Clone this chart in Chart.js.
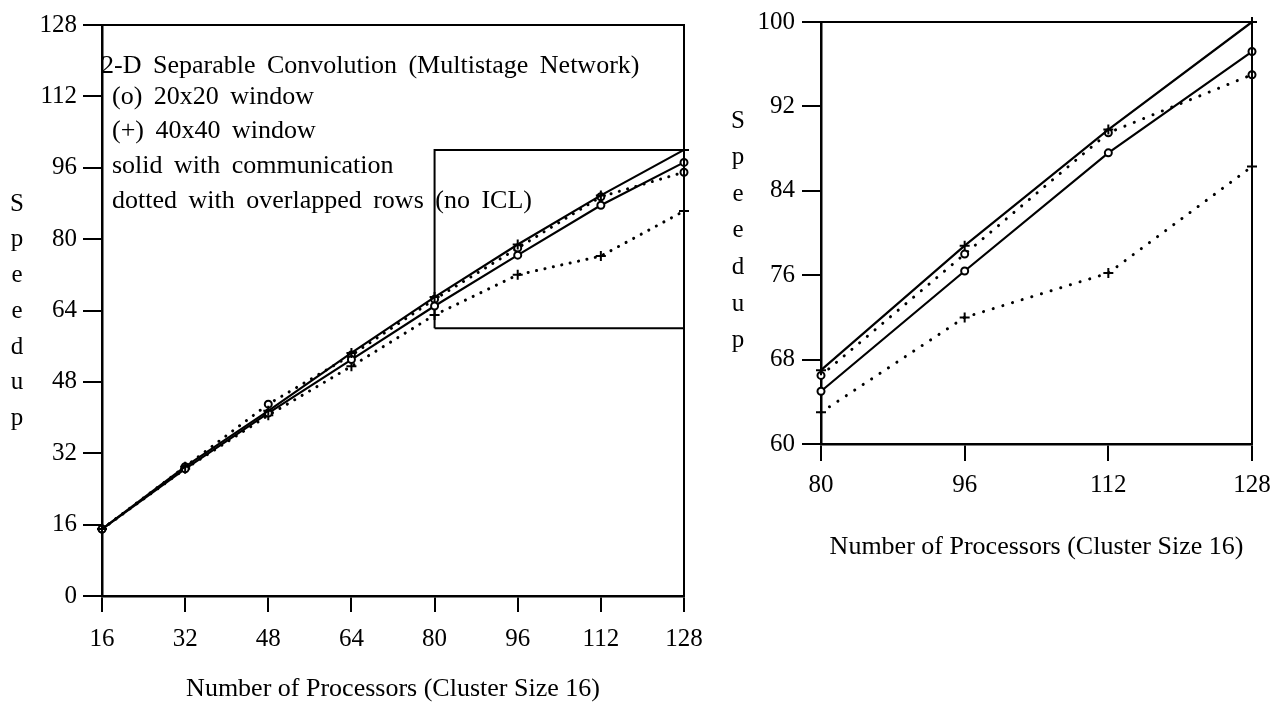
<!DOCTYPE html>
<html><head><meta charset="utf-8">
<script src="https://cdn.jsdelivr.net/npm/chart.js@4.4.0/dist/chart.umd.min.js"></script>
<style>
html,body{margin:0;padding:0;background:#fff;width:1287px;height:707px;overflow:hidden}
#c1{position:absolute;left:0;top:0}
#c2{position:absolute;left:720px;top:0}
</style></head><body>
<canvas id="c1" width="720" height="707"></canvas>
<canvas id="c2" width="567" height="565"></canvas>
<script>
// ---- data ----
const processors = [16, 32, 48, 64, 80, 96, 112, 128];
const solid40 = [15, 29, 41.5, 54.5, 67, 78.8, 89.8, 100];    // (+) solid, with communication
const solid20 = [15, 28.5, 41, 53, 65, 76.4, 87.6, 97.2];     // (o) solid, with communication
const dotted20 = [15, 29, 43, 54, 66.5, 78, 89.5, 95];        // (o) dotted, overlapped rows
const dotted40 = [15, 28.5, 40.5, 51.5, 63, 72, 76.2, 86.3];  // (+) dotted, overlapped rows
const zoomX = [80, 128];
const zoomY = [60, 100];
const annotationLines = [
  '2-D Separable Convolution (Multistage Network)',
  '(o) 20x20 window',
  '(+) 40x40 window',
  'solid with communication',
  'dotted with overlapped rows (no ICL)'
];
const xTitle = 'Number of Processors (Cluster Size 16)';
const yTitle = 'Speedup';

const FONT = "'Liberation Serif', 'Times New Roman', serif";

function pts(xs, ys, minX) {
  const out = [];
  xs.forEach((x, i) => { if (x >= minX) out.push({x: x, y: ys[i]}); });
  return out;
}

function seriesSets(minX, dash) {
  const base = {borderColor: '#000', pointBorderColor: '#000', clip: 12, tension: 0};
  return [
    Object.assign({}, base, {label: 'solid 40x40', data: pts(processors, solid40, minX), borderWidth: 2.2,
      pointStyle: 'cross', pointRadius: 5, pointBorderWidth: 2}),
    Object.assign({}, base, {label: 'solid 20x20', data: pts(processors, solid20, minX), borderWidth: 2.2,
      pointStyle: 'circle', pointRadius: 3.5, pointBorderWidth: 2, pointBackgroundColor: '#fff'}),
    Object.assign({}, base, {label: 'dotted 20x20', data: pts(processors, dotted20, minX), borderWidth: 3,
      borderDash: dash, borderCapStyle: 'round',
      pointStyle: 'circle', pointRadius: 3.5, pointBorderWidth: 2, pointBackgroundColor: '#fff'}),
    Object.assign({}, base, {label: 'dotted 40x40', data: pts(processors, dotted40, minX), borderWidth: 3,
      borderDash: dash, borderCapStyle: 'round',
      pointStyle: 'cross', pointRadius: 5, pointBorderWidth: 2})
  ];
}

const frame = {
  id: 'frame',
  afterDraw(chart, args, o) {
    const {ctx, chartArea: a} = chart;
    ctx.save();
    ctx.strokeStyle = '#000';
    ctx.lineWidth = 2;
    ctx.beginPath();
    ctx.moveTo(a.left, a.top); ctx.lineTo(a.right, a.top); ctx.lineTo(a.right, a.bottom);
    ctx.stroke();
    ctx.fillStyle = '#000';
    ctx.font = o.font;
    ctx.textAlign = 'center';
    ctx.textBaseline = 'middle';
    const letters = yTitle.split('');
    letters.forEach((ch, i) => ctx.fillText(ch, o.titleX, o.titleY0 + i * o.titleStep));
    if (o.lines) {
      ctx.textAlign = 'left';
      ctx.font = o.linesFont;
      if ('wordSpacing' in ctx) ctx.wordSpacing = '5px';
      o.lines.forEach((t, i) => ctx.fillText(t, i === 0 ? o.linesX0 : o.linesX, o.linesY[i]));
    }
    ctx.restore();
  }
};

function makeChart(id, cfg) {
  const sets = seriesSets(cfg.minX, cfg.dash);
  if (cfg.box) {
    sets.push({label: 'zoom', data: [{x: zoomX[0], y: zoomY[0]}, {x: zoomX[0], y: zoomY[1]}, {x: zoomX[1], y: zoomY[1]},
      {x: zoomX[1], y: zoomY[0]}, {x: zoomX[0], y: zoomY[0]}],
      borderColor: '#000', borderWidth: 2, pointRadius: 0, tension: 0, clip: 5});
  }
  return new Chart(document.getElementById(id), {
    type: 'line',
    data: {datasets: sets},
    options: {
      responsive: false, animation: false, devicePixelRatio: 1,
      layout: {padding: cfg.pad},
      plugins: {legend: {display: false}, tooltip: {enabled: false}, frame: cfg.frame},
      scales: {
        x: {
          type: 'linear', min: cfg.minX, max: 128,
          ticks: {stepSize: 16, color: '#000', font: {family: FONT, size: 25}, padding: cfg.xPad, maxRotation: 0},
          grid: {drawOnChartArea: false, color: '#000', lineWidth: 2, tickLength: cfg.xTick},
          border: {color: '#000', width: 2.5},
          title: {display: true, text: xTitle, color: '#000', font: {family: FONT, size: 26}, padding: {top: 0, bottom: 2}},
          afterFit(s) { s.height = cfg.xH; }
        },
        y: {
          min: cfg.yMin, max: cfg.yMax,
          ticks: {stepSize: cfg.yStep, color: '#000', font: {family: FONT, size: 25}, padding: cfg.yPad},
          grid: {drawOnChartArea: false, color: '#000', lineWidth: 2, tickLength: cfg.yTick},
          border: {color: '#000', width: 2.5},
          afterFit(s) { s.width = cfg.yW; }
        }
      }
    },
    plugins: [frame]
  });
}

makeChart('c1', {
  minX: 16, dash: [0.1, 8.5], box: true, yMin: 0, yMax: 128, yStep: 16,
  pad: {top: 25, right: 36, bottom: 0, left: 0}, xH: 111, yW: 102,
  xTick: 16, xPad: 12, yTick: 19, yPad: 6,
  frame: {font: '25px ' + FONT, titleX: 17, titleY0: 204, titleStep: 35.75,
    lines: annotationLines, linesFont: '26px ' + FONT, linesX0: 101, linesX: 112, linesY: [66, 97, 131, 166, 201]}
});

makeChart('c2', {
  minX: 80, dash: [0.1, 10], box: false, yMin: 60, yMax: 100, yStep: 8,
  pad: {top: 20, right: 35, bottom: 0, left: 0}, xH: 121, yW: 101,
  xTick: 17, xPad: 9, yTick: 19, yPad: 7,
  frame: {font: '25px ' + FONT, titleX: 18, titleY0: 121, titleStep: 36.6}
});
</script>
</body></html>
